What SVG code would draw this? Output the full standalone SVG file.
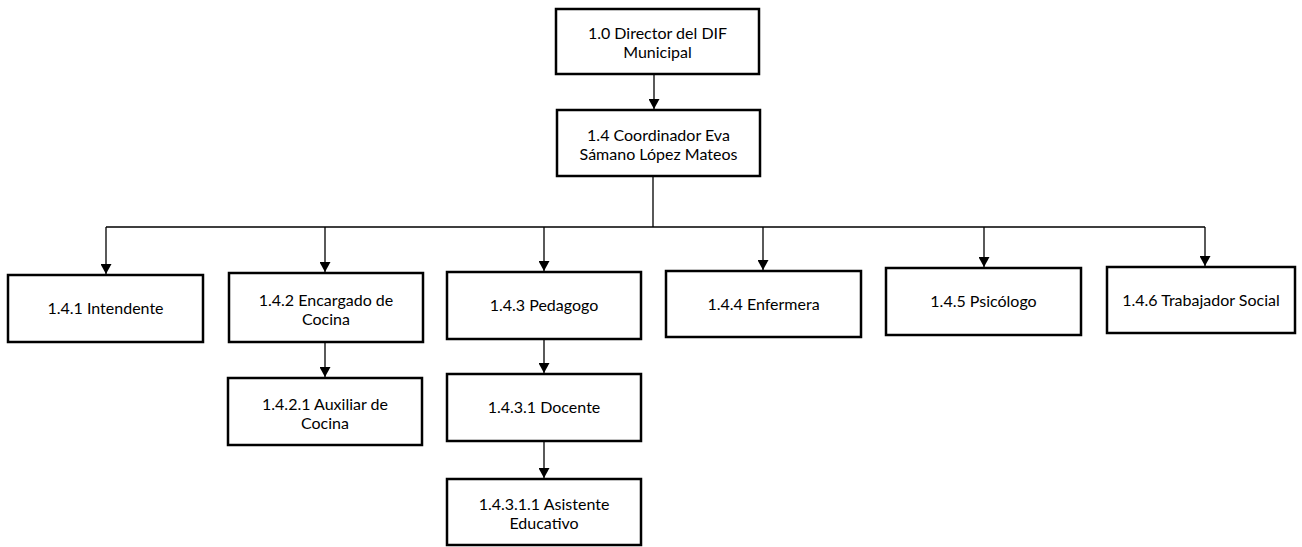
<svg xmlns="http://www.w3.org/2000/svg" width="1302" height="547" viewBox="0 0 1302 547">
<style>
.box{fill:#fff;stroke:#000;stroke-width:2.5}
.lbl{font-family:Lato,"Liberation Sans",sans-serif;font-size:16px;fill:#000;text-anchor:middle}
.con{fill:none;stroke:#000;stroke-width:1.3}
</style>
<defs>
<marker id="ah" markerUnits="userSpaceOnUse" viewBox="0 0 10 11" markerWidth="10" markerHeight="11" refX="10" refY="5.5" orient="auto">
<path d="M0,0 L10,5.5 L0,11 z" fill="#000"/>
</marker>
</defs>
<rect width="1302" height="547" fill="#fff"/>
<g id="connectors">
<path class="con" d="M654,74 V109" marker-end="url(#ah)"/>
<path class="con" d="M653,176 V227 M106,227 H1205"/>
<path class="con" d="M106,227 V274" marker-end="url(#ah)"/>
<path class="con" d="M325,227 V272" marker-end="url(#ah)"/>
<path class="con" d="M544,227 V271" marker-end="url(#ah)"/>
<path class="con" d="M763,227 V270" marker-end="url(#ah)"/>
<path class="con" d="M984,227 V267" marker-end="url(#ah)"/>
<path class="con" d="M1205,227 V266" marker-end="url(#ah)"/>
<path class="con" d="M325,342 V377" marker-end="url(#ah)"/>
<path class="con" d="M544,339 V373" marker-end="url(#ah)"/>
<path class="con" d="M544,441 V478" marker-end="url(#ah)"/>
</g>
<g id="n10"><rect class="box" x="556" y="9" width="203" height="65"/><text class="lbl" x="657.5" y="39">1.0 Director del DIF</text><text class="lbl" x="657.5" y="58">Municipal</text></g>
<g id="n14"><rect class="box" x="557" y="110" width="203" height="66"/><text class="lbl" x="658.5" y="141">1.4 Coordinador Eva</text><text class="lbl" x="658.5" y="160">Sámano López Mateos</text></g>
<g id="n141"><rect class="box" x="8" y="275" width="195" height="67"/><text class="lbl" x="105.5" y="314">1.4.1 Intendente</text></g>
<g id="n142"><rect class="box" x="229" y="273" width="194" height="69"/><text class="lbl" x="326" y="306">1.4.2 Encargado de</text><text class="lbl" x="326" y="325">Cocina</text></g>
<g id="n1421"><rect class="box" x="228" y="378" width="194" height="67"/><text class="lbl" x="325" y="410">1.4.2.1 Auxiliar de</text><text class="lbl" x="325" y="429">Cocina</text></g>
<g id="n143"><rect class="box" x="447" y="272" width="194" height="67"/><text class="lbl" x="544" y="311">1.4.3 Pedagogo</text></g>
<g id="n1431"><rect class="box" x="447" y="374" width="194" height="67"/><text class="lbl" x="544" y="413">1.4.3.1 Docente</text></g>
<g id="n14311"><rect class="box" x="447" y="479" width="194" height="66"/><text class="lbl" x="544" y="510">1.4.3.1.1 Asistente</text><text class="lbl" x="544" y="529">Educativo</text></g>
<g id="n144"><rect class="box" x="666" y="271" width="195" height="66"/><text class="lbl" x="763.5" y="310">1.4.4 Enfermera</text></g>
<g id="n145"><rect class="box" x="886" y="268" width="195" height="67"/><text class="lbl" x="983.5" y="307">1.4.5 Psicólogo</text></g>
<g id="n146"><rect class="box" x="1107" y="267" width="188" height="66"/><text class="lbl" x="1201" y="306">1.4.6 Trabajador Social</text></g>
</svg>
